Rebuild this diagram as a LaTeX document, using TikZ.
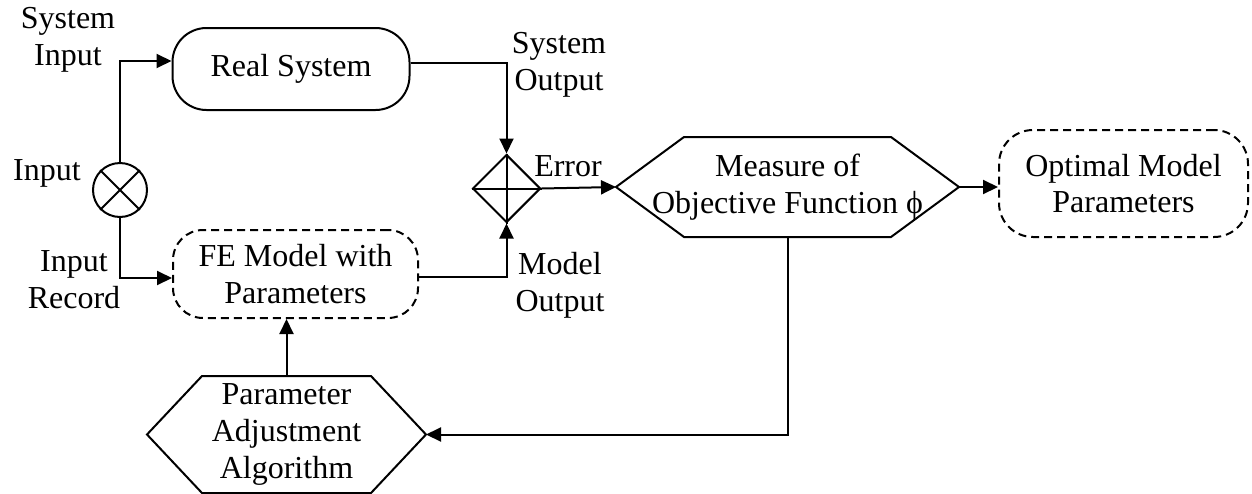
\documentclass[tikz,border=0pt]{standalone}
\usepackage{fontspec}
\setmainfont{Liberation Serif}
\usetikzlibrary{arrows.meta,shapes.geometric}

% hexagon round a named node: #1 node, #2 depth of the tips
\newcommand{\drawhex}[2]{%
  \draw (#1.west) -- ([xshift=#2]#1.north west) -- ([xshift=-#2]#1.north east)
    -- (#1.east) -- ([xshift=-#2]#1.south east) -- ([xshift=#2]#1.south west) -- cycle;}

\begin{document}
\begin{tikzpicture}[x=0.5pt,y=-0.5pt,line width=1pt,
    >={Triangle[length=7.5pt,width=7pt]},font=\fontsize{16}{18.4}\selectfont]
    \tikzstyle{block}=[draw,rounded corners=17pt,align=center,inner sep=0pt]
    \tikzstyle{model block}=[block,dash pattern=on 4pt off 2.5pt]
    \tikzstyle{hex}=[align=center,inner sep=0pt]
    \tikzstyle{annot}=[align=center,inner sep=0pt]

    \useasboundingbox (0,0) rectangle (1252,493);

    % Draw the system and model blocks
    \node[block,minimum width=118.5pt,minimum height=41pt] (RS) at (291,69) {Real System};
    \node[model block,minimum width=122.5pt,minimum height=44pt,rounded corners=15pt] (FE) at (295.5,274) {FE Model with\\Parameters};
    \node[model block,minimum width=124.5pt,minimum height=53.5pt] (OM) at (1123.5,183.5) {Optimal Model\\Parameters};

    % Input junction and error sum
    \node[draw,circle,minimum size=27pt,inner sep=0pt] (IN) at (120,190) {};
    \draw (IN.north west) -- (IN.south east) (IN.north east) -- (IN.south west);
    \node[draw,diamond,minimum size=34pt,inner sep=0pt] (ER) at (506.5,188.5) {};
    \draw (ER.north) -- (ER.south) (ER.west) -- (ER.east);

    % Objective function and adjustment algorithm
    \node[hex,minimum width=170.5pt,minimum height=49pt] (MO) at (787.5,187) {Measure of\\Objective Function ϕ};
    \drawhex{MO}{34pt}
    \node[hex,minimum width=138.5pt,minimum height=57.5pt] (PA) at (286.5,434.5) {Parameter\\Adjustment\\Algorithm};
    \drawhex{PA}{27.5pt}

    % Annotate the signals
    \node[annot] (si) at (68,40) {System\\Input};
    \node[annot] (in) at (47,173) {Input};
    \node[annot] (ir) at (74,280) {Input\\Record};
    \node[annot] (so) at (559,65) {System\\Output};
    \node[annot] (er) at (568,166) {Error};
    \node[annot] (mout) at (560,285) {Model\\Output};

    % Connect the blocks
    \draw[->] (IN.north) |- ([yshift=4pt]RS.west);
    \draw[->] (IN.south) |- ([yshift=-2pt]FE.west);
    \draw[->] ([yshift=3pt]RS.east) -| (ER.north);
    \draw[->] ([yshift=-1.5pt]FE.east) -| (ER.south);
    \draw[->] (ER.east) -- (MO.west);
    \draw[->] (MO.east) -- (MO.east -| OM.west);
    % feedback loop
    \draw[->] (MO.south) |- (PA.east);
    \draw[->] (PA.north) -- (PA.north |- FE.south);
\end{tikzpicture}
\end{document}
